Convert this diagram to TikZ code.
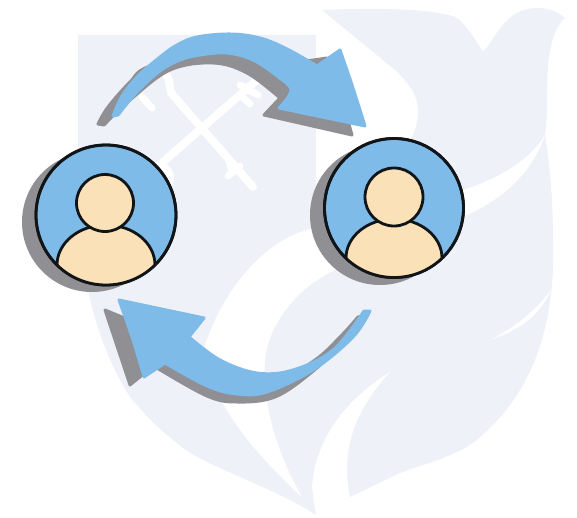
\documentclass[tikz,border=0pt]{standalone}
\definecolor{pale}{HTML}{EEF1F8}
\definecolor{skyb}{HTML}{7EBBE8}
\definecolor{shade}{HTML}{8F8F94}
\definecolor{skin}{HTML}{FAE1B7}
\definecolor{ink}{HTML}{111518}
\tikzset{
  mark shape/.style={fill=pale,draw=none},
  gap shape/.style={fill=white,draw=none},
  key line/.style={draw=white,line width=8pt,line cap=round,line join=round},
  key tooth/.style={draw=white,line width=7pt,line cap=round},
  arrow blue/.style={fill=skyb,draw=skyb,line width=3pt,line join=round},
  arrow shade/.style={fill=shade,draw=shade,line width=3pt,line join=round},
  disc/.style={draw=ink,line width=2.8pt,fill=skyb},
  skin part/.style={draw=ink,line width=2.8pt,fill=skin},
  disc shade/.style={fill=shade,draw=none}
}
\newcommand{\uppath}{plot[smooth,tension=.6] coordinates {(113,116) (122,96) (138,76) (160,57) (177,45) (197,37) (230,34) (260,38) (287,49) (317,66)}
  -- (340,50) -- plot[smooth,tension=.6] coordinates {(340,50) (352,85) (365,126)}
  -- (279,108) -- plot[smooth,tension=.6] coordinates {(279,108) (291,90) (277,76) (253,60) (227,53) (200,55) (180,60) (160,71) (137,92) (118,115)} -- cycle}
\newcommand{\upshade}{plot[smooth,tension=.6] coordinates {(98,124) (108,107) (130,82) (150,66) (227,44) (300,62)}
  -- (327,58) -- (345,110) -- (352,135) -- (264,115) -- (280,98)
  -- plot[smooth,tension=.6] coordinates {(280,98) (247,73) (213,63) (170,70) (130,100) (104,125)} -- cycle}
\newcommand{\lowpath}{plot[smooth,tension=.6] coordinates {(370,311) (353,337) (313,370) (267,392) (237,394) (207,386) (165,363)}
  -- (144,377) -- plot[smooth,tension=.6] coordinates {(144,377) (133,340) (119,300)}
  -- (204,318) -- (189,337) -- plot[smooth,tension=.6] coordinates {(189,337) (220,360) (257,373) (293,370) (333,350) (364,311)} -- cycle}
\newcommand{\lowshade}{plot[smooth,tension=.6] coordinates {(358,317) (340,337) (315,360) (280,378) (230,375) (190,345)}
  -- (105,310) -- (130,385) -- (146,372) -- (157,368)
  -- plot[smooth,tension=.6] coordinates {(157,368) (207,396) (237,402) (275,397) (312,372) (348,338) (362,316)} -- cycle}
\begin{document}
\begin{tikzpicture}[x=1pt,y=-1pt]
\useasboundingbox (0,0) rectangle (577,518);
\fill[white] (0,0) rectangle (577,518);
% pale watermark: shield
\path[mark shape] (78,35) -- (316,35) -- (316,240) -- (553,240)
  .. controls (556,330) and (530,400) .. (470,445)
  .. controls (445,460) and (420,465) .. (400,473)
  -- (350,497) -- (316,515)
  .. controls (270,485) and (200,465) .. (177,443)
  .. controls (160,430) and (145,415) .. (130,397)
  .. controls (100,350) and (78,280) .. (78,190) -- cycle;
% pale watermark: dove
\path[mark shape] (322,10) .. controls (370,8) and (430,8) .. (455,17)
  .. controls (465,22) and (475,40) .. (483,52)
  .. controls (492,42) and (500,24) .. (515,14)
  .. controls (530,5) and (552,6) .. (565,18)
  .. controls (555,26) and (550,45) .. (548,65)
  .. controls (546,90) and (548,115) .. (545,135)
  .. controls (552,180) and (553,210) .. (553,250)
  -- (390,250) -- (390,170)
  .. controls (405,150) and (420,130) .. (418,108)
  .. controls (416,90) and (405,80) .. (395,70) -- cycle;
% white bands across the mark
\path[gap shape] (545,135) .. controls (530,160) and (500,178) .. (463,190)
  -- (400,210) -- (350,222) -- (316,228)
  .. controls (270,235) and (225,285) .. (205,345)
  .. controls (203,390) and (250,450) .. (302,497)
  .. controls (275,450) and (262,400) .. (265,360)
  .. controls (270,310) and (320,270) .. (350,266)
  -- (440,225) .. controls (490,210) and (530,180) .. (545,135) -- cycle;
\path[gap shape] (390,372) .. controls (345,400) and (315,440) .. (312,487)
  -- (316,516) -- (350,497) .. controls (340,450) and (355,410) .. (390,372) -- cycle;
\path[gap shape] (490,340) .. controls (520,325) and (540,305) .. (551,290)
  .. controls (540,315) and (520,330) .. (490,340) -- cycle;
% keys
\draw[key line] (163,72) .. controls (172,78) and (168,88) .. (172,94) -- (253,187);
\draw[key line] (163,162) -- (257,80);
\draw[key tooth] (232,172) -- (229,160) (240,166) -- (228,176);
\draw[key tooth] (142,97) -- (152,108);
\draw[key tooth] (240,85) -- (258,95) (242,97) -- (250,104);
\fill[white] (158,178) circle (16);
% upper arrow
\draw[arrow shade] \upshade;
\draw[arrow blue] \uppath;
% lower arrow
\draw[arrow shade] \lowshade;
\draw[arrow blue] \lowpath;
% left person
\fill[disc shade] (92,222) circle (70);
\node[circle,disc,minimum size=140pt,inner sep=0pt] (discA) at (106,215) {};
\begin{scope}
\clip (106,215) circle (70);
\draw[skin part] (106,265) ellipse (49 and 40);
\end{scope}
\node[circle,skin part,minimum size=57pt,inner sep=0pt] (headA) at (105,203) {};
\draw[draw=ink,line width=2.8pt] (106,215) circle (70);
% right person
\fill[disc shade] (380,215) circle (70);
\node[circle,disc,minimum size=139pt,inner sep=0pt] (discB) at (394,208) {};
\begin{scope}
\clip (394,208) circle (69.5);
\draw[skin part] (394,258) ellipse (48 and 39);
\end{scope}
\node[circle,skin part,minimum size=58pt,inner sep=0pt] (headB) at (394,197) {};
\draw[draw=ink,line width=2.8pt] (394,208) circle (69.5);
\end{tikzpicture}
\end{document}
